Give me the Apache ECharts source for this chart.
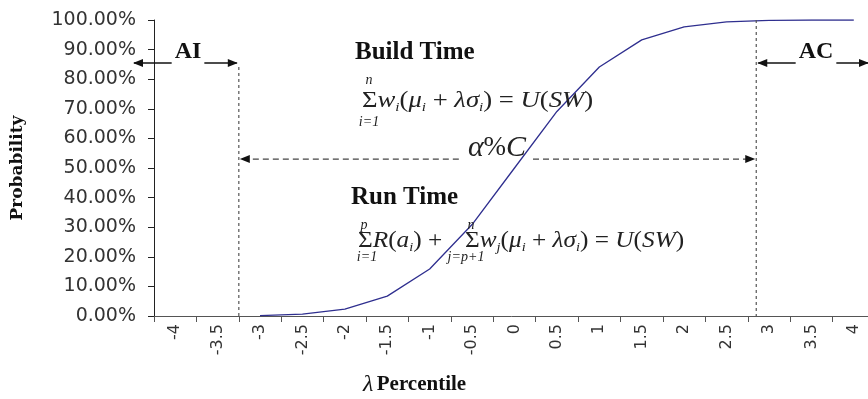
<!DOCTYPE html>
<html>
<head>
<meta charset="utf-8">
<script src="https://cdn.jsdelivr.net/npm/echarts@6/dist/echarts.min.js"></script>
<style>html,body{margin:0;padding:0;background:#fff}#c{width:868px;height:399px}</style>
</head>
<body>
<div id="c"></div>
<script>
// ---- data ----
const categories = ['-4','-3.5','-3','-2.5','-2','-1.5','-1','-0.5','0','0.5','1','1.5','2','2.5','3','3.5','4'];
const probability = [null, null, 0.1, 0.6, 2.3, 6.7, 15.9, 30.9, 50, 69.1, 84.1, 93.3, 97.7, 99.4, 99.9, 100, 100];
const yTickValues = [0,10,20,30,40,50,60,70,80,90,100];
const yAxisTitle = 'Probability';
const xAxisTitle = 'Percentile';
const arrowLevel = 85.5;   // AI / AC arrows (probability)
const alphaLevel = 53;     // α%C arrow (probability)
const leftDottedTop = 84.1;

const SERIF = '"Liberation Serif", "Times New Roman", serif';
const SANS = '"DejaVu Sans", sans-serif';

const chart = echarts.init(document.getElementById('c'), null, {renderer: 'canvas'});
const option = {
  animation: false,
  backgroundColor: '#fff',
  grid: {left: 154, top: 20, width: 721, height: 296, containLabel: false, outerBoundsMode: 'none'},
  xAxis: {
    type: 'category',
    data: categories,
    boundaryGap: true,
    axisLine: {lineStyle: {color: '#555', width: 1}},
    axisTick: {show: true, length: 6, inside: false, lineStyle: {color: '#555'}},
    axisLabel: {rotate: 90, margin: 8, fontFamily: SANS, fontSize: 16, color: '#333', interval: 0},
    splitLine: {show: false}
  },
  yAxis: {
    type: 'value',
    min: yTickValues[0], max: yTickValues[yTickValues.length-1], interval: 10,
    name: yAxisTitle,
    nameLocation: 'middle',
    nameRotate: 90,
    nameGap: 128,
    nameTextStyle: {fontFamily: '"DejaVu Serif", serif', fontWeight: 'bold', fontSize: 17, color: '#111'},
    axisLine: {show: true, lineStyle: {color: '#222', width: 1}},
    axisTick: {show: true, length: 6, lineStyle: {color: '#222'}},
    axisLabel: {margin: 18, fontFamily: SANS, fontSize: 19, color: '#333',
      formatter: v => v.toFixed(2) + '%'},
    splitLine: {show: false}
  },
  series: [{
    type: 'line',
    data: probability,
    showSymbol: false,
    smooth: false,
    lineStyle: {color: '#2f2f8f', width: 1.3},
    z: 3
  }]
};
chart.setOption(option);

// ---- annotations positioned through the axes ----
const cx = i => chart.convertToPixel({xAxisIndex: 0}, categories[i]);
const py = v => chart.convertToPixel({yAxisIndex: 0}, v);
const band = cx(1) - cx(0);
const xLeft = cx(2) - band / 2;
const xRight = cx(14) - band * 0.3;
const yArrow = py(arrowLevel);
const yAlpha = py(alphaLevel);
const y0 = py(0);

function arrowHead(x, y, dir) { // dir = -1 points left, +1 right
  const L = 10, W = 4;
  return {type: 'polygon', z: 10, shape: {points: [[x, y], [x - dir * L, y - W], [x - dir * L, y + W]]}, style: {fill: '#111'}};
}
const dotted = {stroke: '#555', lineWidth: 1.2, lineDash: [3, 3]};
const dashed = {stroke: '#444', lineWidth: 1.2, lineDash: [6, 4]};
const g = [];
// vertical dotted lines
g.push({type: 'line', z: 5, shape: {x1: xLeft, y1: py(leftDottedTop), x2: xLeft, y2: y0}, style: dotted});
g.push({type: 'line', z: 5, shape: {x1: xRight, y1: py(100), x2: xRight, y2: y0}, style: dotted});
// AI arrow
g.push({type: 'line', z: 10, shape: {x1: 134, y1: yArrow, x2: xLeft - 2, y2: yArrow}, style: {stroke: '#111', lineWidth: 1.5}});
g.push(arrowHead(133, yArrow, -1));
g.push(arrowHead(xLeft - 1, yArrow, 1));
g.push({type: 'text', z: 11, x: 188, y: yArrow + 1, style: {text: 'AI', fontFamily: SERIF, fontWeight: 'bold', fontSize: 24, fill: '#111', align: 'center', verticalAlign: 'bottom', backgroundColor: '#fff', padding: [0, 3, 0, 3]}});
// AC arrow
g.push({type: 'line', z: 10, shape: {x1: xRight + 2, y1: yArrow, x2: 868, y2: yArrow}, style: {stroke: '#111', lineWidth: 1.5}});
g.push(arrowHead(xRight + 1, yArrow, -1));
g.push(arrowHead(869, yArrow, 1));
g.push({type: 'text', z: 11, x: 816, y: yArrow + 1, style: {text: 'AC', fontFamily: SERIF, fontWeight: 'bold', fontSize: 24, fill: '#111', align: 'center', verticalAlign: 'bottom', backgroundColor: '#fff', padding: [0, 3, 0, 3]}});
// α%C dashed arrow
g.push({type: 'line', z: 5, shape: {x1: xLeft + 4, y1: yAlpha, x2: 461, y2: yAlpha}, style: dashed});
g.push({type: 'line', z: 5, shape: {x1: 533, y1: yAlpha, x2: xRight - 4, y2: yAlpha}, style: dashed});
g.push(arrowHead(xLeft + 1, yAlpha, -1));
g.push(arrowHead(xRight - 1, yAlpha, 1));
g.push({type: 'text', z: 11, x: 497, y: yAlpha + 4, style: {
  text: '{i|α}{n|%}{i|C}', align: 'center', verticalAlign: 'bottom',
  rich: {i: {fontFamily: SERIF, fontStyle: 'italic', fontSize: 30, fill: '#222'}, n: {fontFamily: SERIF, fontSize: 27, fill: '#222'}}}});
// Build Time / Run Time labels
g.push({type: 'text', z: 11, x: 355, y: 53, style: {text: 'Build Time', fontFamily: SERIF, fontWeight: 'bold', fontSize: 25, fill: '#111', align: 'left', verticalAlign: 'middle'}});
g.push({type: 'text', z: 11, x: 351, y: 198, style: {text: 'Run Time', fontFamily: SERIF, fontWeight: 'bold', fontSize: 25, fill: '#111', align: 'left', verticalAlign: 'middle'}});

const fRich = {
  m: {fontFamily: SERIF, fontSize: 23, fill: '#222', lineHeight: 26},
  i: {fontFamily: SERIF, fontStyle: 'italic', fontSize: 23, fill: '#222', lineHeight: 26},
  s: {fontFamily: SERIF, fontStyle: 'italic', fontSize: 13, fill: '#222', lineHeight: 13, verticalAlign: 'bottom'}
};
const lim = (x, y, t) => ({type: 'text', z: 11, x: x, y: y, style: {text: t, fontFamily: SERIF, fontStyle: 'italic', fontSize: 14, fill: '#222', align: 'center', verticalAlign: 'middle'}});
const formula = (x, y, t, sx) => ({type: 'text', z: 11, x: x, y: y, scaleX: sx, style: {text: t, align: 'left', verticalAlign: 'middle', rich: fRich}});
// Build Time formula
g.push(formula(362, 101, '{m|Σ}{i|w}{s|i}{m|(}{i|μ}{s|i}{m| + }{i|λσ}{s|i}{m|) = }{i|U}{m|(}{i|SW}{m|)}', 1.16));
g.push(lim(369, 80, 'n'));
g.push(lim(369, 122, 'i=1'));
// Run Time formula
g.push(formula(358, 241, '{m|Σ}{i|R}{m|(}{i|a}{s|i}{m|) +}', 1.1));
g.push(lim(364, 225, 'p'));
g.push(lim(367, 257, 'i=1'));
g.push(formula(465, 241, '{m|Σ}{i|w}{s|j}{m|(}{i|μ}{s|i}{m| + }{i|λσ}{s|i}{m|) = }{i|U}{m|(}{i|SW}{m|)}', 1.1));
g.push(lim(471, 225, 'n'));
g.push(lim(466, 257, 'j=p+1'));
// x-axis title
g.push({type: 'text', z: 11, x: 363, y: 385, style: {
  text: '{l|λ} {b|' + xAxisTitle + '}', align: 'left', verticalAlign: 'middle',
  rich: {l: {fontFamily: SERIF, fontStyle: 'italic', fontSize: 24, fill: '#111'}, b: {fontFamily: SERIF, fontWeight: 'bold', fontSize: 21, fill: '#111'}}}});

chart.setOption({graphic: g});
</script>
</body>
</html>
